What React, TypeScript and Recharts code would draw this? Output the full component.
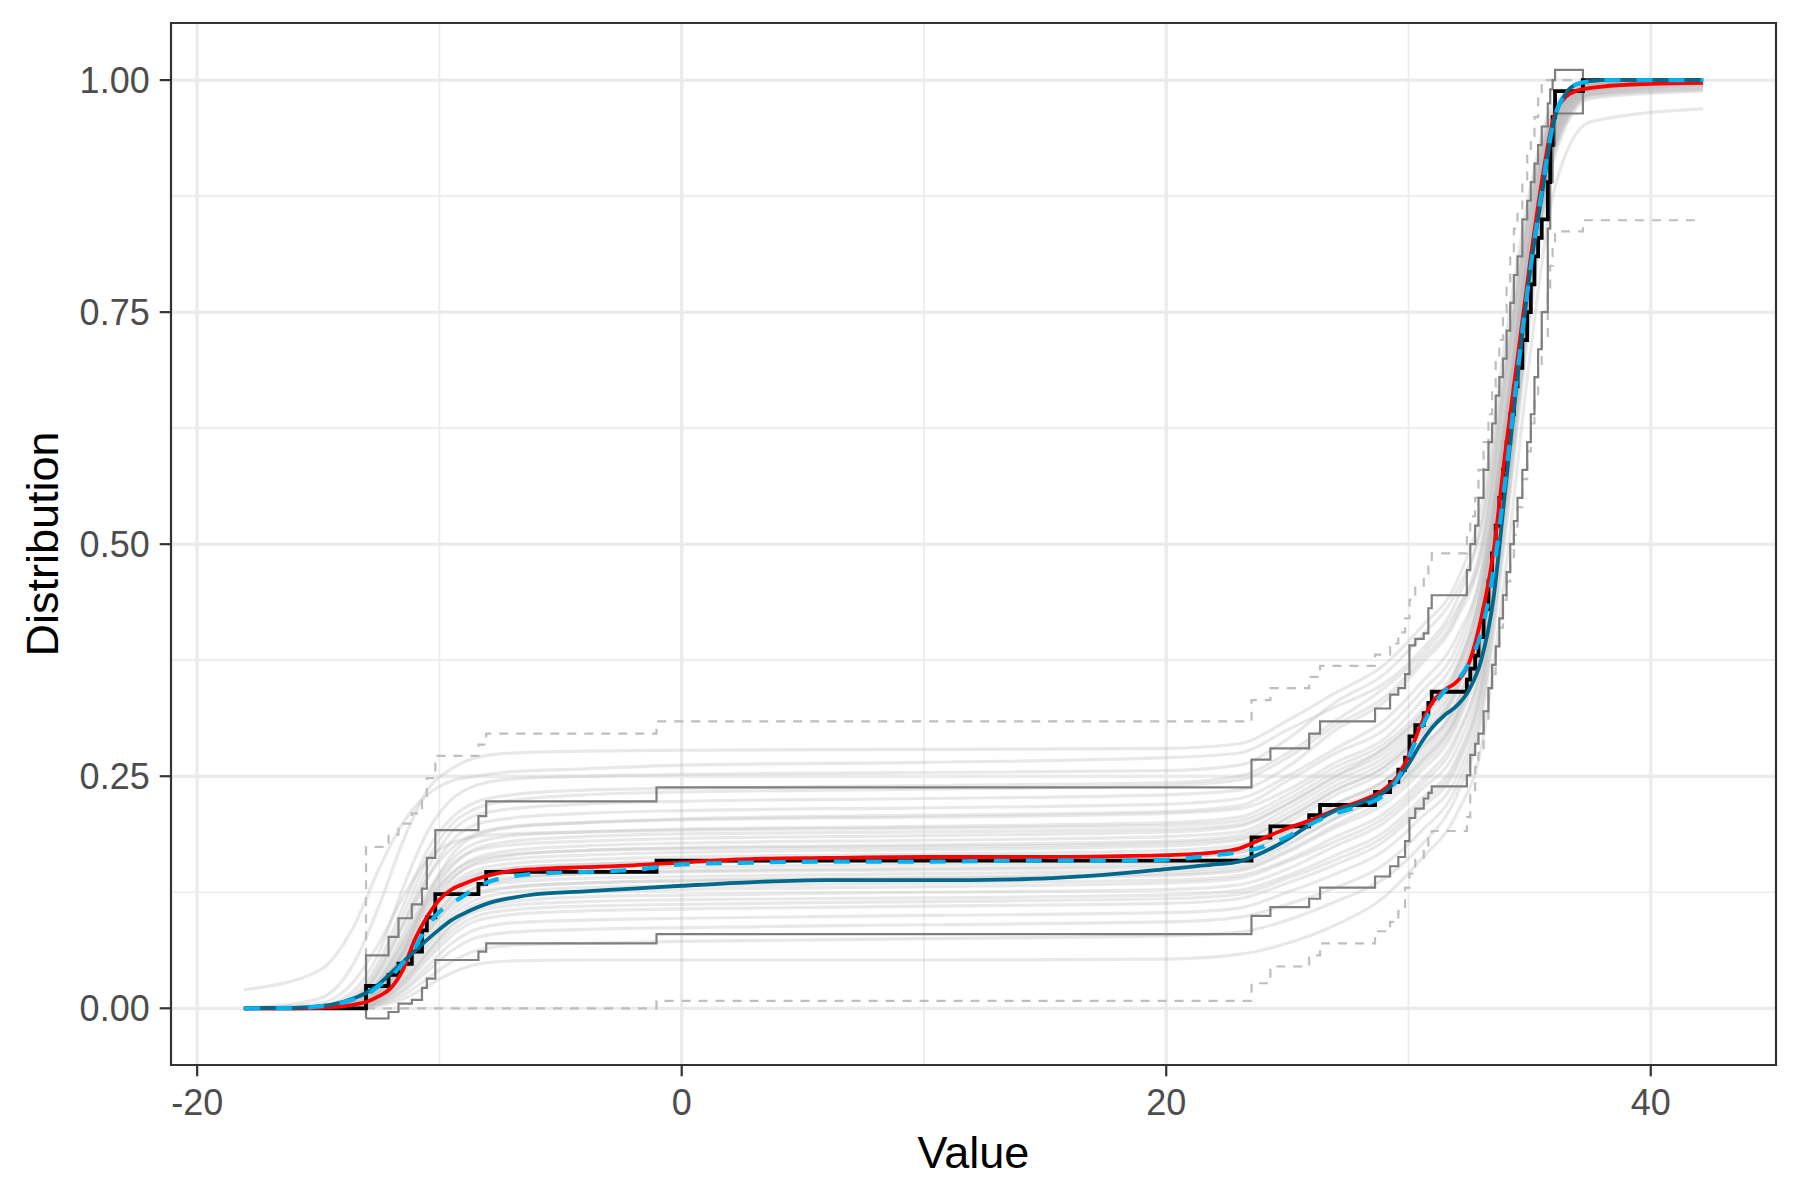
import React from 'react';
import { LineChart, Line, XAxis, YAxis, CartesianGrid, ReferenceArea } from 'recharts';

const FONT = '"Liberation Sans", Arial, sans-serif';

// axes
const X_DOMAIN = [-21.08, 45.17];
const Y_DOMAIN = [-0.0611, 1.0615];
const X_TICKS = [-20, 0, 20, 40];
const Y_TICKS = [0, 0.25, 0.5, 0.75, 1];
const X_MINOR = [-10, 10, 30];
const Y_MINOR = [0.125, 0.375, 0.625, 0.875];

// empirical CDF jump points (shared by the step bands)
const STEP_X = [
  -18.07, -13.03, -12.1, -11.69, -11.14, -10.72, -10.52, -10.17, -8.39, -8.07,
  -1.04, 23.52, 24.3, 25.9, 26.35, 28.62, 29.24, 29.58, 29.86, 30.04,
  30.28, 30.63, 30.82, 30.96, 32.41, 32.55, 32.75, 32.89, 33.1, 33.3,
  33.45, 33.6, 33.75, 33.9, 34.05, 34.2, 34.35, 34.5, 34.7, 34.9,
  35.05, 35.2, 35.35, 35.5, 35.75, 35.85, 35.95, 36.05, 37.2, 42.16,
];
const ECDF_Y = [
  0, 0.024, 0.036, 0.048, 0.061, 0.084, 0.098, 0.123, 0.134, 0.147,
  0.159, 0.184, 0.196, 0.208, 0.219, 0.233, 0.244, 0.257, 0.27, 0.293,
  0.305, 0.318, 0.329, 0.341, 0.354, 0.366, 0.38, 0.4, 0.43, 0.46,
  0.49, 0.52, 0.55, 0.58, 0.61, 0.64, 0.67, 0.69, 0.72, 0.75,
  0.78, 0.81, 0.83, 0.85, 0.89, 0.93, 0.96, 0.988, 1, 1,
];
const BAND_HI_Y = [
  null, 0.057, 0.077, 0.097, 0.112, 0.129, 0.162, 0.192, 0.207, 0.223,
  0.238, 0.268, 0.28, 0.296, 0.309, 0.323, 0.338, 0.345, 0.36, 0.391,
  0.398, 0.404, 0.431, 0.445, 0.472, 0.5, 0.52, 0.55, 0.58, 0.61,
  0.63, 0.66, 0.68, 0.7, 0.73, 0.76, 0.79, 0.81, 0.85, 0.87,
  0.89, 0.91, 0.93, 0.95, 0.975, 0.99, 1.0, 1.011, 1, 1,
];
const BAND_LO_Y = [
  null, -0.011, -0.004, 0.005, 0.009, 0.022, 0.032, 0.052, 0.061, 0.07,
  0.08, 0.0995, 0.109, 0.118, 0.13, 0.142, 0.153, 0.163, 0.18, 0.205,
  0.215, 0.226, 0.232, 0.239, 0.251, 0.273, 0.285, 0.296, 0.32, 0.345,
  0.37, 0.39, 0.42, 0.445, 0.47, 0.5, 0.525, 0.55, 0.58, 0.61,
  0.64, 0.68, 0.71, 0.75, 0.84, 0.89, 0.93, 0.964, 1, 1,
];
const DASH_HI_Y = [
  null, 0.174, 0.187, 0.199, 0.21, 0.224, 0.248, 0.272, 0.284, 0.296,
  0.309, 0.332, 0.345, 0.357, 0.369, 0.381, 0.393, 0.405, 0.42, 0.44,
  0.455, 0.465, 0.48, 0.49, 0.51, 0.53, 0.55, 0.58, 0.61, 0.64,
  0.67, 0.7, 0.72, 0.75, 0.78, 0.81, 0.84, 0.86, 0.89, 0.92,
  0.94, 0.96, 0.98, 1, 1, 1, 1, 1, 1, 1,
];
const DASH_LO_Y = [
  null, 0, 0, 0, 0, 0, 0, 0, 0, 0,
  0.008, 0.027, 0.045, 0.057, 0.07, 0.083, 0.093, 0.105, 0.13, 0.145,
  0.16, 0.175, 0.183, 0.191, 0.206, 0.23, 0.26, 0.28, 0.31, 0.34,
  0.36, 0.39, 0.41, 0.44, 0.46, 0.48, 0.51, 0.54, 0.57, 0.6,
  0.63, 0.66, 0.69, 0.72, 0.77, 0.8, 0.82, 0.837, 0.849, 0.849,
];

// smooth estimates
const SMOOTH_X = [
  -18.07, -16, -14.5, -13.5, -13, -12.5, -12, -11.5, -11, -10.5,
  -10, -9.5, -9, -8.5, -8, -7, -6, -4, -2, 0,
  3, 6, 10, 14, 18, 20, 22, 23, 24, 25,
  26, 27, 28, 29, 29.5, 30, 30.5, 31, 31.5, 32,
  32.5, 33, 33.5, 34, 34.5, 35, 35.5, 36, 36.5, 37,
  38, 40, 42.16,
];
const RED_Y = [
  0, 0, 0.001, 0.004, 0.007, 0.013, 0.022, 0.042, 0.075, 0.099,
  0.117, 0.128, 0.134, 0.139, 0.143, 0.148, 0.15, 0.152, 0.154, 0.157,
  0.161, 0.162, 0.163, 0.163, 0.164, 0.165, 0.168, 0.172, 0.183, 0.194,
  0.203, 0.214, 0.223, 0.236, 0.248, 0.272, 0.305, 0.33, 0.343, 0.352,
  0.372, 0.42, 0.49, 0.6, 0.7, 0.8, 0.89, 0.96, 0.982, 0.989,
  0.993, 0.996, 0.997,
];
const TEAL_Y = [
  0, 0.0005, 0.0036, 0.011, 0.017, 0.026, 0.038, 0.05, 0.062, 0.074,
  0.085, 0.095, 0.102, 0.108, 0.113, 0.119, 0.123, 0.126, 0.129, 0.132,
  0.136, 0.138, 0.138, 0.139, 0.145, 0.15, 0.155, 0.158, 0.168, 0.182,
  0.199, 0.213, 0.221, 0.233, 0.245, 0.263, 0.285, 0.303, 0.316, 0.326,
  0.343, 0.375, 0.44, 0.56, 0.68, 0.79, 0.875, 0.955, 0.986, 0.996,
  1, 1, 1,
];
const BLUE_Y = [
  0, 0.0005, 0.0036, 0.01, 0.015, 0.024, 0.034, 0.049, 0.066, 0.088,
  0.104, 0.113, 0.121, 0.13, 0.136, 0.142, 0.145, 0.147, 0.149, 0.155,
  0.157, 0.158, 0.158, 0.159, 0.159, 0.16, 0.165, 0.168, 0.174, 0.185,
  0.199, 0.21, 0.218, 0.23, 0.245, 0.27, 0.3, 0.325, 0.342, 0.353,
  0.372, 0.405, 0.47, 0.57, 0.685, 0.79, 0.88, 0.957, 0.986, 0.996,
  1, 1, 1,
];

// bootstrap replicate curves (light grey)
const BOOT_X = [
  -18.07, -15, -13.5, -12.5, -11.5, -10.5, -9.5, -8.5, -7, -4,
  0, 10, 20, 23, 25, 27, 29, 30.5, 32, 33,
  34, 35, 36, 37.5, 42.16,
];
const BOOT_CURVES = [
  [0, .01, .05, .11, .18, .235, .258, .27, .275, .277, .278, .279, .28, .285, .31, .34, .37, .41, .46, .54, .72, .88, .975, .997, 1],
  [.02, .04, .09, .15, .2, .23, .245, .25, .255, .258, .262, .265, .27, .275, .3, .325, .35, .385, .44, .52, .7, .87, .97, .995, 1],
  [0, .002, .02, .06, .13, .19, .225, .24, .247, .25, .252, .254, .256, .262, .29, .33, .36, .4, .45, .52, .69, .86, .965, .995, 1],
  [0, .001, .015, .05, .11, .17, .205, .222, .23, .235, .237, .24, .243, .25, .275, .31, .345, .38, .43, .49, .67, .85, .96, .994, 1],
  [0, 0, .01, .04, .09, .15, .19, .208, .215, .22, .223, .226, .23, .235, .26, .3, .33, .37, .42, .49, .68, .86, .965, .996, 1],
  [0, 0, .008, .035, .08, .14, .18, .198, .205, .21, .213, .216, .22, .226, .25, .28, .31, .35, .4, .47, .65, .84, .96, .994, 1],
  [0, 0, .01, .04, .09, .14, .172, .188, .196, .2, .203, .206, .21, .215, .235, .265, .29, .33, .38, .46, .64, .83, .955, .993, 1],
  [0, 0, .006, .03, .075, .125, .16, .178, .186, .19, .193, .196, .2, .206, .23, .26, .285, .32, .37, .45, .63, .83, .955, .994, 1],
  [0, 0, .005, .025, .065, .115, .152, .172, .18, .185, .188, .19, .193, .198, .22, .25, .275, .31, .36, .44, .62, .82, .95, .993, 1],
  [0, 0, .004, .022, .06, .11, .145, .162, .17, .175, .178, .181, .185, .19, .215, .245, .27, .305, .355, .44, .63, .83, .955, .994, 1],
  [0, 0, .008, .03, .07, .115, .145, .16, .166, .17, .172, .174, .178, .183, .205, .235, .26, .295, .345, .43, .62, .82, .95, .993, 1],
  [0, 0, .004, .02, .055, .1, .133, .149, .156, .16, .163, .166, .17, .176, .2, .23, .255, .29, .34, .42, .61, .81, .95, .993, 1],
  [0, 0, .003, .018, .05, .094, .127, .143, .151, .155, .158, .16, .163, .168, .19, .22, .245, .28, .33, .41, .6, .81, .945, .99, .997],
  [0, 0, .002, .015, .045, .088, .12, .138, .146, .15, .152, .155, .158, .163, .185, .215, .24, .275, .325, .4, .59, .8, .94, .99, 1],
  [0, 0, .003, .016, .045, .085, .115, .13, .136, .14, .142, .145, .148, .153, .175, .205, .23, .265, .315, .39, .58, .79, .94, .988, .995],
  [0, 0, .002, .012, .038, .075, .105, .122, .13, .135, .137, .14, .143, .148, .168, .195, .22, .255, .305, .385, .58, .79, .94, .989, .998],
  [0, 0, .002, .012, .036, .07, .1, .117, .125, .13, .132, .135, .138, .143, .16, .185, .21, .245, .295, .37, .56, .78, .935, .988, .999],
  [0, 0, .001, .008, .028, .06, .09, .107, .115, .12, .122, .125, .128, .133, .15, .175, .2, .235, .28, .36, .55, .77, .93, .985, .993],
  [0, 0, .002, .01, .03, .06, .088, .104, .111, .115, .117, .119, .122, .127, .143, .165, .19, .225, .27, .35, .55, .77, .93, .985, .995],
  [0, 0, .001, .007, .024, .052, .078, .094, .101, .105, .107, .11, .113, .118, .135, .155, .18, .215, .26, .34, .54, .76, .925, .984, .99],
  [0, 0, .001, .006, .02, .045, .07, .085, .092, .095, .097, .1, .103, .108, .125, .145, .17, .205, .25, .33, .53, .76, .925, .984, .992],
  [0, 0, .001, .005, .018, .04, .062, .076, .082, .085, .087, .09, .093, .098, .112, .13, .155, .19, .24, .32, .52, .75, .92, .982, .99],
  [0, 0, 0, .004, .014, .032, .05, .062, .068, .07, .072, .075, .078, .082, .095, .115, .14, .175, .23, .31, .51, .74, .915, .98, .988],
  [0, 0, 0, .003, .01, .024, .038, .047, .051, .052, .052, .052, .053, .058, .07, .09, .12, .16, .21, .28, .47, .7, .88, .955, .969],
  [0, 0, .005, .024, .062, .108, .14, .155, .161, .165, .168, .171, .175, .181, .205, .235, .26, .295, .345, .43, .62, .82, .95, .993, 1],
  [0, 0, .003, .017, .048, .09, .12, .135, .141, .145, .148, .151, .155, .16, .182, .21, .235, .27, .32, .4, .59, .8, .945, .99, 1],
  [0, 0, .003, .02, .06, .12, .165, .186, .195, .2, .204, .208, .212, .218, .245, .275, .3, .34, .39, .47, .66, .85, .96, .995, 1],
  [0, 0, .006, .028, .07, .12, .155, .17, .176, .18, .183, .186, .19, .196, .22, .25, .28, .315, .365, .45, .64, .84, .955, .994, 1],
  [0, 0, .002, .01, .032, .066, .095, .112, .12, .125, .128, .131, .135, .14, .158, .18, .205, .24, .29, .37, .56, .78, .935, .988, .996],
  [0, 0, .001, .008, .026, .056, .083, .099, .106, .11, .112, .115, .118, .123, .14, .16, .185, .22, .265, .345, .545, .765, .928, .985, .994],
  [0, .005, .03, .07, .12, .16, .178, .185, .188, .19, .192, .194, .197, .202, .225, .255, .28, .315, .365, .45, .63, .83, .955, .994, 1],
  [0, 0, .006, .025, .058, .1, .13, .145, .151, .155, .157, .16, .163, .168, .19, .22, .245, .28, .33, .41, .6, .8, .945, .99, .998],
  [0, 0, .003, .018, .052, .1, .138, .157, .165, .17, .173, .176, .18, .186, .21, .24, .265, .3, .35, .43, .62, .82, .95, .993, 1],
  [0, 0, .004, .018, .045, .082, .11, .125, .131, .135, .138, .141, .145, .15, .17, .198, .225, .26, .31, .39, .58, .79, .94, .989, .999],
  [0, .001, .012, .045, .1, .16, .198, .215, .224, .23, .233, .236, .24, .246, .27, .305, .335, .375, .425, .5, .68, .86, .965, .995, 1],
  [0, 0, .002, .013, .04, .08, .113, .13, .139, .145, .147, .149, .152, .157, .178, .205, .23, .265, .315, .395, .585, .795, .94, .99, 1],
];

type Pt = { x: number; y: number };

const toPoints = (xs: number[], ys: (number | null)[]): Pt[] =>
  xs.map((x, i) => ({ x, y: ys[i] as number })).filter((p) => p.y !== null && p.y !== undefined);

// band starts with a vertical rise from the value given
const bandPoints = (ys: (number | null)[], startY: number): Pt[] => {
  const pts = toPoints(STEP_X, ys);
  return [{ x: pts[0].x, y: startY }, ...pts];
};

const XTitle = (props: any) => {
  const vb = props.viewBox || { x: 171, y: 1065, width: 1605, height: 135 };
  return (
    <text x={vb.x + vb.width / 2} y={vb.y + 87} textAnchor="middle" dominantBaseline="central"
      fontSize={45} fontFamily={FONT} fill="#000000">Value</text>
  );
};

const YTitle = (props: any) => {
  const vb = props.viewBox || { x: 0, y: 23, width: 171, height: 1042 };
  const cx = vb.x + 42;
  const cy = vb.y + vb.height / 2;
  return (
    <text x={cx} y={cy} transform={`rotate(-90 ${cx} ${cy})`} textAnchor="middle" dominantBaseline="central"
      fontSize={45} fontFamily={FONT} fill="#000000">Distribution</text>
  );
};

export default function App() {
  const tickStyle = { fontSize: 36, fill: '#4D4D4D', fontFamily: FONT };
  return (
    <div style={{ position: 'absolute', left: 0, top: 0, width: 1800, height: 1200, background: '#ffffff' }}>
      <LineChart width={1800} height={1200} margin={{ top: 23, right: 24, bottom: 0, left: 0 }}>
        <CartesianGrid stroke="#EBEBEB" strokeWidth={1.7} horizontalValues={Y_MINOR} verticalValues={X_MINOR} />
        <CartesianGrid stroke="#EBEBEB" strokeWidth={3.3} horizontalValues={Y_TICKS} verticalValues={X_TICKS} />
        <XAxis
          type="number"
          dataKey="x"
          domain={X_DOMAIN}
          ticks={X_TICKS}
          interval={0}
          allowDataOverflow
          height={135}
          axisLine={false}
          tickSize={11.3}
          tickMargin={13}
          tickLine={{ stroke: '#333333', strokeWidth: 2.2 }}
          tick={tickStyle}
          label={<XTitle />}
        />
        <YAxis
          type="number"
          domain={Y_DOMAIN}
          ticks={Y_TICKS}
          interval={0}
          allowDataOverflow
          width={171}
          axisLine={false}
          tickSize={11.3}
          tickMargin={10}
          tickLine={{ stroke: '#333333', strokeWidth: 2.2 }}
          tick={tickStyle}
          tickFormatter={(v: number) => v.toFixed(2)}
          label={<YTitle />}
        />

        {BOOT_CURVES.map((ys, i) => (
          <Line
            key={`boot-${i}`}
            data={toPoints(BOOT_X, ys)}
            dataKey="y"
            type="monotone"
            stroke="#BDBDBD"
            strokeOpacity={0.34}
            strokeWidth={3.2}
            dot={false}
            activeDot={false}
            isAnimationActive={false}
          />
        ))}

        <Line data={bandPoints(DASH_HI_Y, 0)} dataKey="y" type="stepAfter" stroke="#BEBEBE" strokeWidth={2.2}
          strokeDasharray="9 8" dot={false} activeDot={false} isAnimationActive={false} />
        <Line data={toPoints(STEP_X, DASH_LO_Y)} dataKey="y" type="stepAfter" stroke="#BEBEBE" strokeWidth={2.2}
          strokeDasharray="9 8" dot={false} activeDot={false} isAnimationActive={false} />
        <Line data={bandPoints(BAND_HI_Y, -0.011)} dataKey="y" type="stepAfter" stroke="#7F7F7F" strokeWidth={2.2}
          dot={false} activeDot={false} isAnimationActive={false} />
        <Line data={toPoints(STEP_X, BAND_LO_Y)} dataKey="y" type="stepAfter" stroke="#7F7F7F" strokeWidth={2.2}
          dot={false} activeDot={false} isAnimationActive={false} />

        <Line data={toPoints(STEP_X, ECDF_Y)} dataKey="y" type="stepAfter" stroke="#000000" strokeWidth={3.8}
          dot={false} activeDot={false} isAnimationActive={false} />
        <Line data={toPoints(SMOOTH_X, RED_Y)} dataKey="y" type="monotone" stroke="#FF0000" strokeWidth={3.8}
          dot={false} activeDot={false} isAnimationActive={false} />
        <Line data={toPoints(SMOOTH_X, TEAL_Y)} dataKey="y" type="monotone" stroke="#00688B" strokeWidth={3.8}
          dot={false} activeDot={false} isAnimationActive={false} />
        <Line data={toPoints(SMOOTH_X, BLUE_Y)} dataKey="y" type="monotone" stroke="#00B2EE" strokeWidth={4.2}
          strokeDasharray="16 16" dot={false} activeDot={false} isAnimationActive={false} />

        <ReferenceArea x1={X_DOMAIN[0]} x2={X_DOMAIN[1]} y1={Y_DOMAIN[0]} y2={Y_DOMAIN[1]}
          fill="none" stroke="#333333" strokeWidth={2.2} ifOverflow="visible" />
      </LineChart>
    </div>
  );
}
